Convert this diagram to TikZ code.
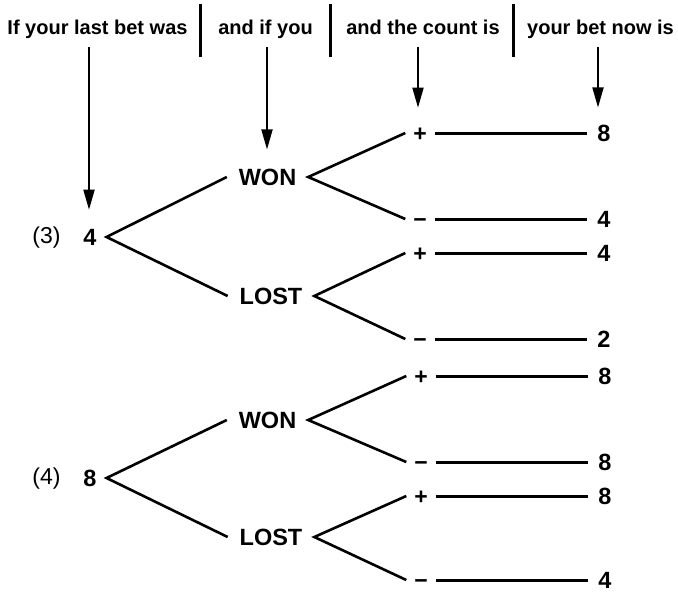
\documentclass[tikz,border=0pt]{standalone}
\usepackage{fontspec}
\setmainfont{Liberation Sans}
\usetikzlibrary{arrows.meta}

\begin{document}
\begin{tikzpicture}[x=1pt,y=-1pt,
  hdr/.style={font=\bfseries\fontsize{20}{24}\selectfont, anchor=base, inner sep=0pt},
  word/.style={font=\bfseries\fontsize{23.5}{28}\selectfont, inner sep=0pt, outer xsep=12pt},
  num/.style={font=\bfseries\fontsize{23.5}{28}\selectfont, inner sep=0pt, outer xsep=10pt},
  tag/.style={font=\fontsize{23}{28}\selectfont, inner sep=0pt},
  % the box is centred on the math axis of the font, so the sign sits on its rule
  sign/.style={font=\bfseries\fontsize{23}{28}\selectfont, inner sep=0pt, outer xsep=8pt,
               text height=16.2pt, text depth=0pt},
  divider/.style={line width=3pt},
  branch/.style={line width=2.6pt},
  hline/.style={line width=3pt},
  pointer/.style={line width=1.8pt, -{Triangle[length=20pt,width=11pt]}, shorten >=19pt},
]
\useasboundingbox (0,0) rectangle (678,592);

% column headings
\node[hdr] (h1) at (97.5,34) {If your last bet was};
\node[hdr] (h2) at (265.5,34) {and if you};
\node[hdr] (h3) at (423,34) {and the count is};
\node[hdr] (h4) at (600.5,34) {your bet now is};
\draw[divider] (200,4) -- (200,57);
\draw[divider] (330,4) -- (330,57);
\draw[divider] (513,4) -- (513,57);

% first tree: last bet 4
\node[tag] (t1) at (46.5,238) {(3)};
\node[num] (r1) at (90,237) {4};
\node[word] (w1) at (267.5,177) {WON};
\node[word] (l1) at (271,296) {LOST};
\node[sign] (s1) at (420,133) {+};
\node[sign] (s2) at (420,219) {−};
\node[sign] (s3) at (420,253) {+};
\node[sign] (s4) at (420,339) {−};
\node[num] (v1) at (604,133) {8};
\node[num] (v2) at (604,219) {4};
\node[num] (v3) at (604,253) {4};
\node[num] (v4) at (604,339) {2};

% second tree: last bet 8
\node[tag] (t2) at (46.5,479) {(4)};
\node[num] (r2) at (90,478) {8};
\node[word] (w2) at (267.5,420) {WON};
\node[word] (l2) at (271,537) {LOST};
\node[sign] (s5) at (421,376) {+};
\node[sign] (s6) at (421,462) {−};
\node[sign] (s7) at (421,496) {+};
\node[sign] (s8) at (421,580) {−};
\node[num] (v5) at (605,376) {8};
\node[num] (v6) at (605,462) {8};
\node[num] (v7) at (605,496) {8};
\node[num] (v8) at (605,580) {4};

% branches
\draw[branch] (w1.west) -- (r1.east) -- (l1.west);
\draw[branch] (s1.west) -- (w1.east) -- (s2.west);
\draw[branch] (s3.west) -- (l1.east) -- (s4.west);
\draw[branch] (w2.west) -- (r2.east) -- (l2.west);
\draw[branch] (s5.west) -- (w2.east) -- (s6.west);
\draw[branch] (s7.west) -- (l2.east) -- (s8.west);

% rules from count sign to new bet
\foreach \s/\v in {s1/v1,s2/v2,s3/v3,s4/v4,s5/v5,s6/v6,s7/v7,s8/v8}
  \draw[hline] (\s.east) -- (\v.west);

% arrows from the headings
\coordinate (a1) at (89,47);
\coordinate (a2) at (267,47);
\coordinate (a3) at (418,47);
\coordinate (a4) at (598,47);
\draw[pointer] (a1) -- (a1 |- r1.north);
\draw[pointer] (a2) -- (a2 |- w1.north);
\draw[pointer, shorten >=17pt] (a3) -- (a3 |- s1.north);
\draw[pointer, shorten >=17pt] (a4) -- (a4 |- v1.north);
\end{tikzpicture}
\end{document}
